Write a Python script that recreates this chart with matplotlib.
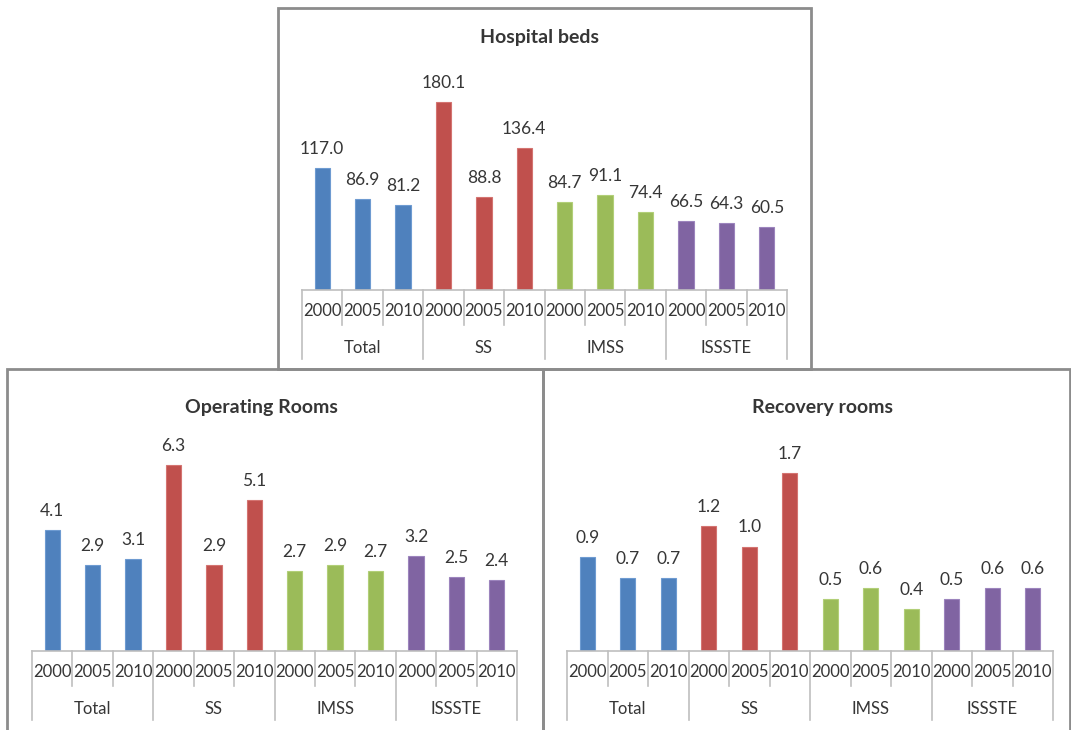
import numpy as np
import matplotlib
matplotlib.use("Agg")
import matplotlib.pyplot as plt
from matplotlib.patches import Rectangle
from matplotlib.lines import Line2D
import matplotlib.transforms as mtransforms

plt.rcParams['font.family'] = ['Lato', 'DejaVu Sans']

# Data
groups = ["Total", "SS", "IMSS", "ISSSTE"]
years = ["2000", "2005", "2010"]
beds = [117.0, 86.9, 81.2, 180.1, 88.8, 136.4, 84.7, 91.1, 74.4, 66.5, 64.3, 60.5]
operating = [4.1, 2.9, 3.1, 6.3, 2.9, 5.1, 2.7, 2.9, 2.7, 3.2, 2.5, 2.4]
recovery = [0.9, 0.7, 0.7, 1.2, 1.0, 1.7, 0.5, 0.6, 0.4, 0.5, 0.6, 0.6]

group_colors = ["#4F81BD", "#C0504D", "#9BBB59", "#8064A2"]
edge_colors = ["#6E9BD1", "#D47471", "#B2CF78", "#9C84BD"]
text_color = "#363636"
grid_color = "#BFBFBF"
frame_color = "#8C8C8C"

W, H = 1071, 730
fig = plt.figure(figsize=(W / 100, H / 100), dpi=100)


def fx(px):
    return px / W


def fy(py):
    return 1 - py / H


# Frames around each chart
frames = [(278, 8, 811, 369), (7, 369, 543, 732), (543, 369, 1070, 732)]
for x0, y0, x1, y1 in frames:
    fig.add_artist(Rectangle((fx(x0), fy(y1)), fx(x1 - x0), (y1 - y0) / H,
                             transform=fig.transFigure, fill=False,
                             edgecolor=frame_color, linewidth=2))

# name, values, table left/right, baseline, px per unit, title position
panels = [
    ("Hospital beds", beds, 302, 787, 290, 1.044, 540, 38),
    ("Operating Rooms", operating, 32, 517, 651, 29.6, 261, 407),
    ("Recovery rooms", recovery, 567, 1053, 651, 104.5, 822, 407),
]

n = len(groups) * len(years)
for title, vals, left, right, base, ppu, tx, ty in panels:
    top = base - 215
    ax = fig.add_axes([fx(left), fy(base), fx(right - left), (base - top) / H])
    ax.set_xlim(-0.5, n - 0.5)
    ax.set_ylim(0, (base - top) / ppu)
    ax.axis("off")

    x = np.arange(n)
    cols = [group_colors[i // 3] for i in range(n)]
    ecols = [edge_colors[i // 3] for i in range(n)]
    ax.bar(x, vals, width=0.38, color=cols, edgecolor=ecols, linewidth=0.8)

    for xi, v in zip(x, vals):
        ax.annotate(f"{v:.1f}", (xi, v), xytext=(0, 19), textcoords="offset pixels",
                    ha="center", va="center", fontsize=12.5, color=text_color)

    # category table under the bars
    h = base - top
    trans = mtransforms.blended_transform_factory(ax.transData, ax.transAxes)
    ax.add_line(Line2D([-0.5, n - 0.5], [0, 0], transform=trans, color=grid_color,
                       linewidth=1.2, clip_on=False))
    for b in range(n + 1):
        depth = 69 if b % 3 == 0 else 35
        ax.add_line(Line2D([b - 0.5, b - 0.5], [0, -depth / h], transform=trans,
                           color=grid_color, linewidth=1.2, clip_on=False))
    for i in range(n):
        ax.text(i, -21 / h, years[i % 3], transform=trans, ha="center", va="center",
                fontsize=12, color=text_color)
    for g, name in enumerate(groups):
        ax.text(g * 3 + 1, -58 / h, name, transform=trans, ha="center", va="center",
                fontsize=12, color=text_color)

    fig.text(fx(tx), fy(ty), title, ha="center", va="center", fontsize=14,
             fontweight="bold", color=text_color)

fig.savefig("out.png", dpi=100)
